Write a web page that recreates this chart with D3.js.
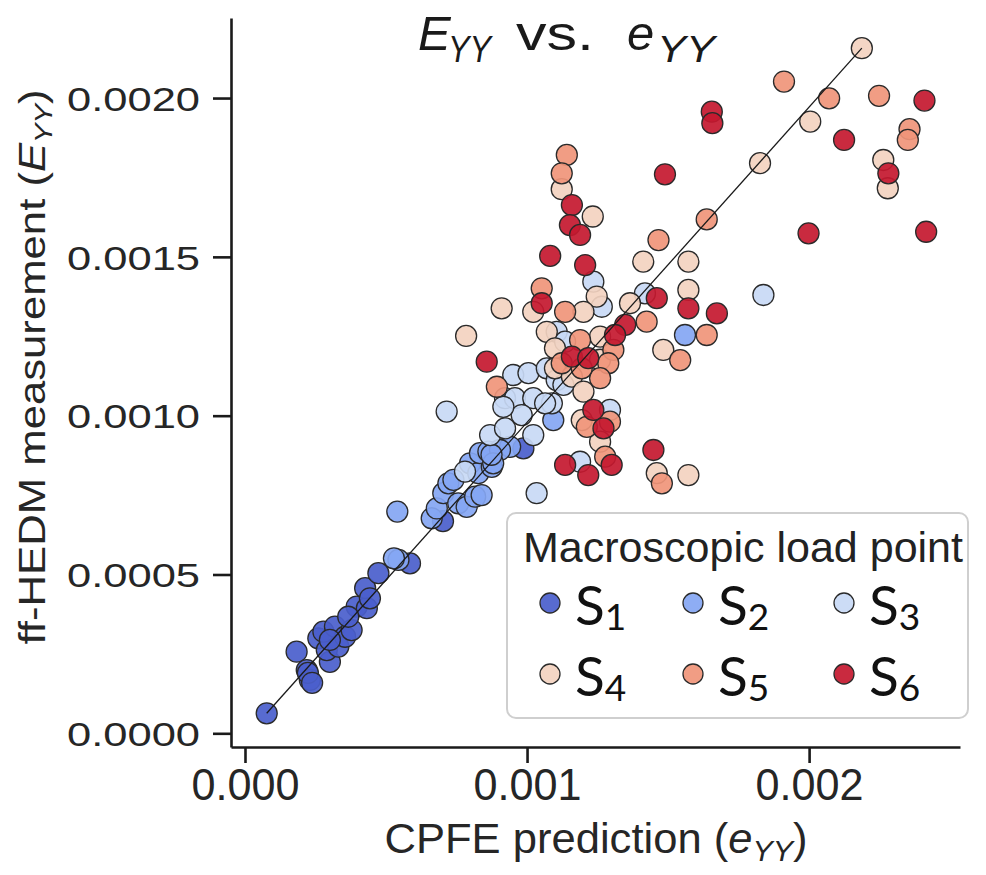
<!DOCTYPE html>
<html>
<head>
<meta charset="utf-8">
<script src="https://cdn.jsdelivr.net/npm/d3@7/dist/d3.min.js"></script>
<style>
  html, body { margin: 0; padding: 0; background: #fff; }
  svg { display: block; font-family: "Liberation Sans", Arial, sans-serif; }
</style>
</head>
<body>
<svg id="chart" width="986" height="875"></svg>
<script>
// Grain-averaged lattice strain, in microstrain: [CPFE e_YY, ff-HEDM E_YY]
const loadPoints = ["1", "2", "3", "4", "5", "6"];

const s1 = [[77,63],[183,257],[219,199],[230,168],[223,190],[238,159],[301,225],[260,299],
  [290,262],[278,320],[319,336],[331,273],[355,304],[378,325],[301,294],[396,399],[432,394],
  [426,457],[443,425],[473,504],[366,367],[585,535],[702,668],[987,897]];

const s2 = [[544,546],[528,551],[540,698],[662,677],[680,708],[703,756],[721,787],[739,798],
  [756,724],[786,713],[816,745],[839,750],[798,850],[827,819],[875,839],[833,882],[863,887],
  [940,902],[904,892],[880,850],[874,877],[1093,986],[1560,1254]];

const s3 = [[1034,756],[715,1013],[951,1128],[1005,1134],[1070,1149],[1105,1112],[922,1055],
  [957,1055],[1022,1055],[1088,1039],[981,1002],[916,1028],[869,939],[922,960],[1022,939],
  [780,824],[1188,855],[1294,1018],[1235,1422],[1265,1343],[1418,1385],[1838,1380],
  [1105,1264],[1135,1233],[1129,1097],[1064,1039]];

const s4 = [[2187,2157],[2004,1926],[2263,1805],[2279,1716],[1826,1795],[1572,1485],[1572,1396],
  [1123,1713],[1233,1627],[1247,1375],[1022,1327],[910,1338],[1200,1327],[1412,1485],
  [1365,1354],[1483,1207],[1070,1264],[1099,1212],[1099,1149],[1159,1123],[1200,1076],
  [1259,918],[1194,986],[1460,819],[1572,813],[1259,1249],[1259,1176],[784,1251]];

const s5 = [[1911,2052],[2071,1999],[2248,2007],[2356,1902],[2350,1868],[1637,1618],[1141,1821],
  [1123,1763],[1052,1401],[1135,1327],[1466,1553],[1424,1296],[1637,1254],[1543,1175],
  [1306,1207],[1288,1165],[1259,1118],[1188,1238],[1123,1165],[1194,1149],[893,1091],
  [1277,871],[1212,965],[1294,981],[1478,787]];

const s6 = [[2409,1992],[1655,1957],[1657,1921],[2124,1868],[2281,1763],[1998,1574],[2415,1579],
  [1572,1338],[1673,1322],[1489,1760],[1159,1663],[1152,1600],[1188,1569],[1082,1503],
  [1206,1474],[1052,1354],[1460,1370],[1348,1286],[1312,1254],[1159,1186],[1217,1181],
  [857,1170],[1135,845],[1217,813],[1300,845],[1235,1018],[1271,960],[1448,892]];

const seriesValues = [s1, s2, s3, s4, s5, s6];
const seriesColors = ["#4a5ecc", "#84a6f3", "#c8d9f5", "#f3d3c0", "#f0957a", "#c4182f"];

const xTicks = [0, 0.001, 0.002];
const xTickLabels = ["0.000", "0.001", "0.002"];
const yTicks = [0, 0.0005, 0.001, 0.0015, 0.002];
const yTickLabels = ["0.0000", "0.0005", "0.0010", "0.0015", "0.0020"];

const MICRO = 1e-6;

const svg = d3.select("#chart");
const x = d3.scaleLinear().domain([-0.0000496, 0.002535]).range([231, 960]);
const y = d3.scaleLinear().domain([-0.0000431, 0.002252]).range([747, 18]);

// flatten for plotting in load order
const points = [];
seriesValues.forEach((arr, i) => arr.forEach(p => points.push({ s: i, ex: p[0] * MICRO, ey: p[1] * MICRO })));

// scatter
svg.append("g")
  .selectAll("circle")
  .data(points)
  .join("circle")
  .attr("cx", d => x(d.ex))
  .attr("cy", d => y(d.ey))
  .attr("r", 10.5)
  .attr("fill", d => seriesColors[d.s])
  .attr("fill-opacity", 0.92)
  .attr("stroke", "#2a2a2a")
  .attr("stroke-width", 1.3);

// reference line joining lowest and highest measurement
const lo = d3.least(points, d => d.ey);
const hi = d3.greatest(points, d => d.ey);
svg.append("line")
  .attr("x1", x(lo.ex)).attr("y1", y(lo.ey))
  .attr("x2", x(hi.ex)).attr("y2", y(hi.ey))
  .attr("stroke", "#1a1a1a")
  .attr("stroke-width", 1.3);

// axes
const yAxis = svg.append("g")
  .attr("transform", `translate(${x.range()[0]},0)`)
  .call(d3.axisLeft(y).tickValues(yTicks).tickSize(18).tickSizeOuter(0)
    .tickFormat((d, i) => yTickLabels[i]));
const xAxis = svg.append("g")
  .attr("transform", `translate(0,${y.range()[0]})`)
  .call(d3.axisBottom(x).tickValues(xTicks).tickSize(16).tickSizeOuter(0)
    .tickFormat((d, i) => xTickLabels[i]));

[yAxis, xAxis].forEach(g => {
  g.select(".domain").attr("stroke", "#1a1a1a").attr("stroke-width", 2.6);
  g.selectAll(".tick line").attr("stroke", "#1a1a1a").attr("stroke-width", 2.6);
  g.selectAll(".tick text").attr("fill", "#262626").attr("font-family", "\"Liberation Sans\", Arial, sans-serif");
});

yAxis.selectAll(".tick text")
  .attr("font-size", 34)
  .attr("x", -31)
  .attr("dy", "0.36em")
  .attr("textLength", 133)
  .attr("lengthAdjust", "spacingAndGlyphs");

xAxis.selectAll(".tick text")
  .attr("font-size", 45)
  .attr("y", 21)
  .attr("dy", "0.72em")
  .attr("textLength", 108)
  .attr("lengthAdjust", "spacingAndGlyphs");

// axis titles
const xLabel = svg.append("text")
  .attr("x", 596).attr("y", 853)
  .attr("text-anchor", "middle")
  .attr("font-size", 43)
  .attr("fill", "#262626")
  .attr("textLength", 423)
  .attr("lengthAdjust", "spacingAndGlyphs");
xLabel.append("tspan").text("CPFE prediction (");
xLabel.append("tspan").attr("font-style", "italic").text("e");
xLabel.append("tspan").attr("font-size", 30).attr("font-style", "italic").attr("dy", 8).text("YY");
xLabel.append("tspan").attr("dy", -8).text(")");

const yLabel = svg.append("text")
  .attr("transform", "translate(45,367) rotate(-90)")
  .attr("text-anchor", "middle")
  .attr("font-size", 36)
  .attr("fill", "#262626")
  .attr("textLength", 555)
  .attr("lengthAdjust", "spacingAndGlyphs");
yLabel.append("tspan").text("ff-HEDM measurement (");
yLabel.append("tspan").attr("font-style", "italic").text("E");
yLabel.append("tspan").attr("font-size", 24).attr("font-style", "italic").attr("dy", 7).text("YY");
yLabel.append("tspan").attr("dy", -7).text(")");

// title
const title = svg.append("text")
  .attr("y", 50)
  .attr("font-size", 49)
  .attr("fill", "#1a1a1a");
title.append("tspan").attr("x", 418).attr("font-style", "italic").text("E");
title.append("tspan").attr("x", 448).attr("font-size", 36).attr("font-style", "italic").attr("dy", 12)
  .attr("textLength", 43).attr("lengthAdjust", "spacingAndGlyphs").text("YY");
title.append("tspan").attr("x", 516).attr("dy", -12).attr("textLength", 78)
  .attr("lengthAdjust", "spacingAndGlyphs").text("vs.");
title.append("tspan").attr("x", 627).attr("font-style", "italic").text("e");
title.append("tspan").attr("x", 657).attr("font-size", 36).attr("font-style", "italic").attr("dy", 12)
  .attr("textLength", 58).attr("lengthAdjust", "spacingAndGlyphs").text("YY");

// legend
const legend = svg.append("g");
legend.append("rect")
  .attr("x", 507).attr("y", 513).attr("width", 461).attr("height", 205)
  .attr("rx", 9)
  .attr("fill", "#fff").attr("fill-opacity", 0.9)
  .attr("stroke", "#cfcfcf").attr("stroke-width", 2);
legend.append("text")
  .attr("x", 523).attr("y", 562)
  .attr("font-size", 42)
  .attr("fill", "#222")
  .attr("textLength", 440)
  .attr("lengthAdjust", "spacingAndGlyphs")
  .text("Macroscopic load point");

const colX = [550, 693, 844];
const rowY = [603, 674];
loadPoints.forEach((lp, i) => {
  const cx = colX[i % 3], cy = rowY[Math.floor(i / 3)];
  legend.append("circle")
    .attr("cx", cx).attr("cy", cy).attr("r", 10)
    .attr("fill", seriesColors[i]).attr("fill-opacity", 0.92)
    .attr("stroke", "#2a2a2a").attr("stroke-width", 1.3);
  const t = legend.append("text")
    .attr("x", cx + 25).attr("y", cy + 22)
    .attr("font-family", "Lato, 'Open Sans', sans-serif")
    .attr("font-size", 55)
    .attr("fill", "#111");
  t.append("tspan").text("S");
  t.append("tspan").attr("font-size", 37).attr("dy", 5).text(lp);
});
</script>
</body>
</html>
